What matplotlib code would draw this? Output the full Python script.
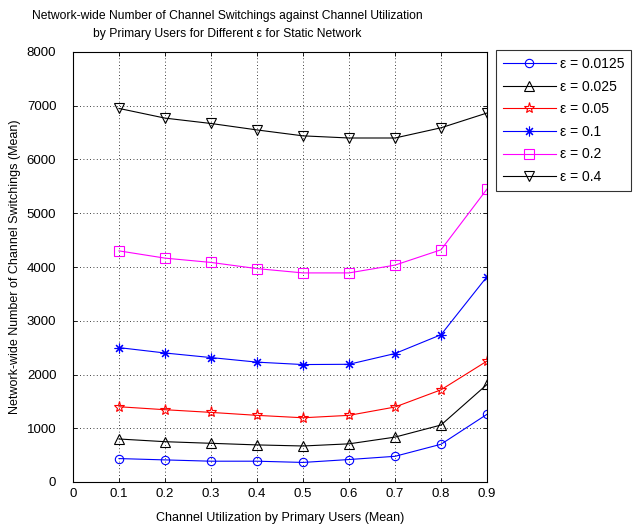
import matplotlib
matplotlib.use("Agg")
import matplotlib.pyplot as plt

plt.rcParams['font.family'] = ['Liberation Sans', 'DejaVu Sans']

# mean channel utilization by primary users
utilization = [0.1, 0.2, 0.3, 0.4, 0.5, 0.6, 0.7, 0.8, 0.9]

# network-wide channel switchings, one list per epsilon
sw_0125 = [436, 411, 387, 387, 364, 418, 478, 702, 1260]
sw_025 = [800, 750, 720, 690, 670, 710, 835, 1060, 1815]
sw_05 = [1400, 1345, 1295, 1240, 1195, 1240, 1395, 1715, 2250]
sw_1 = [2500, 2400, 2315, 2230, 2185, 2190, 2390, 2740, 3820]
sw_2 = [4300, 4165, 4085, 3970, 3890, 3890, 4035, 4320, 5450]
sw_4 = [6950, 6770, 6670, 6550, 6440, 6400, 6400, 6590, 6865]

labels = ["ε = 0.0125", "ε = 0.025", "ε = 0.05", "ε = 0.1", "ε = 0.2", "ε = 0.4"]
x_ticks = [0, 0.1, 0.2, 0.3, 0.4, 0.5, 0.6, 0.7, 0.8, 0.9]
x_ticklabels = ["0", "0.1", "0.2", "0.3", "0.4", "0.5", "0.6", "0.7", "0.8", "0.9"]
y_ticks = [0, 1000, 2000, 3000, 4000, 5000, 6000, 7000, 8000]

fig = plt.figure(figsize=(6.42, 5.28), dpi=100)
ax = fig.add_axes([73 / 642, 46 / 528, 414 / 642, 430 / 528])

styles = [
    (sw_0125, "#0000ff", "o", 6),
    (sw_025, "#000000", "^", 7),
    (sw_05, "#ff0000", "*", 8),
    (sw_1, "#0000ff", (8, 2, 0), 7),
    (sw_2, "#ff00ff", "s", 7),
    (sw_4, "#000000", "v", 7),
]
for (vals, color, marker, ms), lab in zip(styles, labels):
    ax.plot(utilization, vals, color=color, marker=marker, markersize=ms,
            markerfacecolor="none", markeredgecolor=color, markeredgewidth=0.8,
            linewidth=0.8, label=lab)

ax.set_xlim(0, 0.9)
ax.set_ylim(0, 8000)
ax.set_xticks(x_ticks)
ax.set_xticklabels(x_ticklabels)
ax.set_yticks(y_ticks)
ax.grid(True, color="black", linestyle=(0, (1, 3)), linewidth=0.6)
ax.tick_params(direction="in", top=True, right=True, labelsize=9.5, length=3, width=0.6)
ax.tick_params(axis="y", pad=12)
ax.tick_params(axis="x", pad=4)
for s in ax.spines.values():
    s.set_linewidth(0.8)

ax.set_xlabel("Channel Utilization by Primary Users (Mean)", fontsize=9, labelpad=9)
ax.set_ylabel("Network-wide Number of Channel Switchings (Mean)", fontsize=9, labelpad=4)
ax.set_title("Network-wide Number of Channel Switchings against Channel Utilization\n"
             "by Primary Users for Different ε for Static Network", fontsize=8.75,
             linespacing=1.6, pad=11, x=0.372)

leg = fig.legend(loc="upper left", bbox_to_anchor=(496 / 642, 1 - 50 / 528),
                 fontsize=10, frameon=True, fancybox=False, edgecolor="black",
                 handlelength=3.8, borderpad=0.5, labelspacing=0.62, handletextpad=0.3,
                 borderaxespad=0)
leg.get_frame().set_linewidth(0.8)

fig.savefig("out.png", dpi=100)
